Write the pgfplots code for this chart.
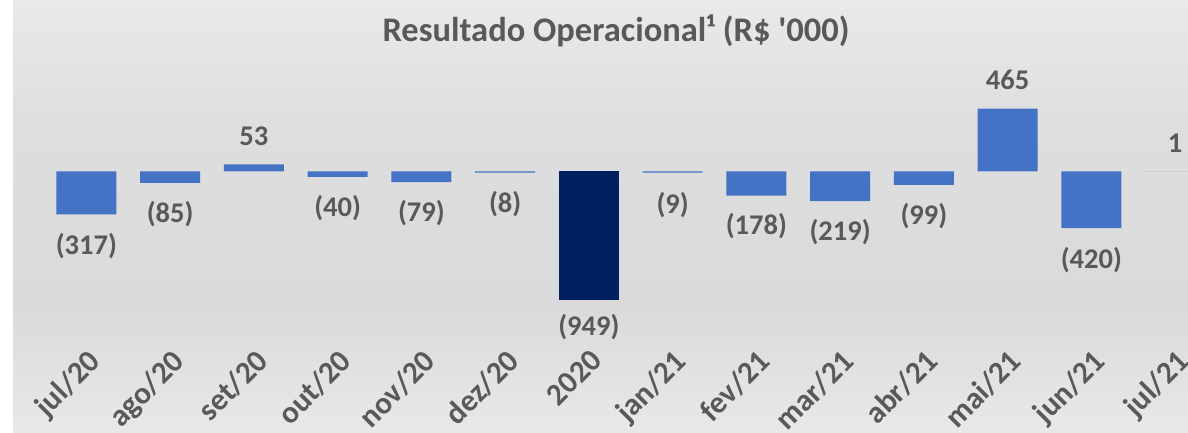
\documentclass[border=0pt]{standalone}
\usepackage{pgfplots}
\pgfplotsset{compat=1.18}
\usepackage{fontspec}
\setmainfont{Carlito}
\definecolor{barblue}{HTML}{4472C4}
\definecolor{navy}{HTML}{002060}
\definecolor{txt}{HTML}{595959}
\pgfdeclareverticalshading{bgshade}{100bp}{color(0bp)=(white); color(4bp)=(white!98!black); color(20bp)=(white!93!black); color(40bp)=(white!85.5!black); color(60bp)=(white!87!black); color(80bp)=(white!93!black); color(100bp)=(white)}
\newcommand{\lbl}{\fontsize{28.5}{34}\selectfont\bfseries}
\newcommand{\tkl}{\fontsize{31}{37}\selectfont\bfseries}
\begin{document}
\begin{tikzpicture}
\useasboundingbox (0,0) rectangle (1188pt,433pt);
\shade[shading=bgshade] (13pt,0) rectangle (1188pt,433pt);
\node[anchor=base, font=\fontsize{34.5}{41}\selectfont\bfseries, text=txt, inner sep=0pt] at (616pt,391.5pt) {Resultado Operacional¹ (R\$ \textquotesingle000)};
\begin{axis}[
  at={(44.5pt,85pt)}, anchor=south west,
  scale only axis, width=1172.5pt, height=348pt,
  xmin=-0.5, xmax=13.5, ymin=-1307.4, ymax=1270.4,
  axis line style={draw=none}, major tick length=0pt,
  ytick=\empty,
  xtick={0,...,13},
  xticklabels={jul/20,ago/20,set/20,out/20,nov/20,dez/20,2020,jan/21,fev/21,mar/21,abr/21,mai/21,jun/21,jul/21},
  xticklabel style={rotate=45, anchor=north east, inner sep=0pt, font=\tkl, text=txt},
  clip=false,
]
\addplot[ybar, bar width=60pt, bar shift=0pt, fill=barblue, draw=none]
  coordinates {(0,-317) (1,-85) (2,53) (3,-40) (4,-79) (5,-8) (7,-9) (8,-178) (9,-219) (10,-99) (11,465) (12,-420) (13,1)};
\addplot[ybar, bar width=60pt, bar shift=0pt, fill=navy, draw=none]
  coordinates {(6,-949)};
\addplot[draw=none, nodes near coords, point meta=explicit symbolic,
  every node near coord/.append style={anchor=center, inner sep=0pt, font=\lbl, text=txt}]
  table[meta=label] {
x y label
0 -556 (317)
1 -317 (85)
2 264 53
3 -270 (40)
4 -309 (79)
5 -238 (8)
6 -1150 (949)
7 -248 (9)
8 -407 (178)
9 -449 (219)
10 -329 (99)
11 680 465
12 -656 (420)
13 211 1
};
\end{axis}
\end{tikzpicture}
\end{document}
